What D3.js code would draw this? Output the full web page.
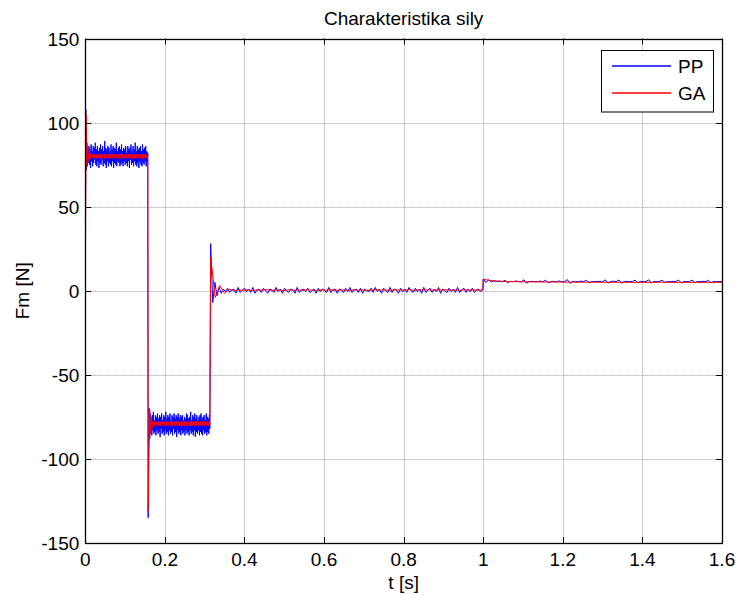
<!DOCTYPE html>
<html>
<head>
<meta charset="utf-8">
<script src="https://cdn.jsdelivr.net/npm/d3@7"></script>
<style>
  body { margin: 0; background: #fff; }
  text { font-family: "Liberation Sans", Arial, sans-serif; }
</style>
</head>
<body>
<svg id="chart" width="737" height="595"></svg>
<script>
const width = 737;
const height = 595;
const margin = { top: 38.5, right: 15, bottom: 52, left: 85.3 };

const xTicks = [0, 0.2, 0.4, 0.6, 0.8, 1, 1.2, 1.4, 1.6];
const yTicks = [-150, -100, -50, 0, 50, 100, 150];

// time span of each piece of the record [start, end] in seconds
const segmentTimes = [[0, 0.157], [0.158, 0.313], [0.315, 0.999], [1.0, 1.6]];

// PP (blue) samples
const ppHigh = [0, 108, 72, 88, 74, 85, 76, 86, 75, 84, 73, 87, 77, 83, 74, 86, 76, 85, 78, 88,
    75, 84, 74, 86, 77, 83, 73, 85, 76, 87, 75, 84, 78, 86, 74, 83, 76, 89, 75, 85,
    73, 84, 77, 86, 74, 85, 76, 83, 75, 87, 74, 84, 77, 86, 73, 85, 76, 84, 75, 88,
    74, 83, 77, 85, 76, 86, 74, 84, 75, 87, 76, 83, 74, 85, 77, 84, 75, 86, 76, 82,
    74, 86, 77, 84, 73, 85, 78, 87, 75, 83, 76, 86, 74, 84, 77, 88, 75, 83, 74, 86,
    76, 84, 73, 85, 77, 86, 75, 83, 74, 87, 76, 84, 75, 85, 77, 86, 74, 83, 76, 82];
const ppLow = [-135, -92, -70, -88, -73, -84, -76, -86, -74, -83, -72, -85, -77, -84, -74, -86, -75, -83, -73, -85,
    -76, -84, -74, -87, -75, -82, -73, -85, -77, -84, -74, -86, -75, -83, -72, -85, -76, -84, -74, -86,
    -75, -83, -73, -85, -77, -84, -74, -86, -75, -82, -73, -85, -76, -84, -74, -87, -75, -83, -73, -85,
    -76, -84, -74, -86, -75, -83, -74, -85, -77, -84, -75, -86, -76, -83, -73, -85, -74, -84, -76, -86,
    -75, -83, -72, -85, -77, -84, -74, -86, -75, -83, -73, -87, -76, -84, -74, -85, -77, -83, -75, -86,
    -74, -84, -73, -85, -76, -86, -75, -83, -74, -85, -77, -84, -73, -86, -75, -84, -76, -85, -74, -82];
const ppZero = [28, -7, 5, -3, 2, -1.5, 1, -0.5, 1.5, -1, 0.5, 1, -1.5, 2, -1, 0.5, 1.5, -0.5, 1, -1,
    2, -1.5, 0.5, 1, -1, 1.5, 0, -1.5, 1, 0.5, -1, 2, -0.5, 1, -1.5, 1.5, 0, -1, 1, 0.5,
    -1.5, 2, -1, 0.5, 1, -0.5, 1.5, -1, 0, 1, -1.5, 1.5, -0.5, 1, 0, -1, 2, -1, 0.5, 1,
    -1.5, 1, 0.5, -1, 1.5, -0.5, 2, -1, 0.5, 1, -1, 1.5, -1.5, 1, 0, -0.5, 1.5, -1, 2, -0.5,
    1, -1.5, 1.5, 0, -1, 2, -1, 1, 0.5, -1.5, 1.5, -0.5, 1, -1, 2, 0, -1, 1.5, -0.5, 1,
    -1.5, 2, -1, 0.5, 1.5, -1, 1, -0.5, 2, -1.5, 1, 0, -1, 1.5, -0.5, 1, -1, 2, -1, 0.5,
    1.5, -1, 1, -0.5, 1.5, -1, 0.5, 1, -0.5, 0.5];
const ppStep = [7, 5, 6.5, 5.2, 6, 5.5, 5.8, 5.3, 6.2, 4.8, 5.6, 5.4, 5.8, 5.5, 5.3, 6.5, 4.5, 5.5, 5.6,
    5.4, 5.5, 5.7, 5.4, 6.3, 4.7, 5.5, 5.6, 5.4, 5.8, 5.3, 5.5, 6.6, 4.4, 5.6, 5.5, 5.4, 5.7, 5.5, 6.2,
    4.8, 5.5, 5.4, 5.6, 5.5, 5.3, 6.5, 4.6, 5.5, 5.7, 5.4, 6.4, 4.5, 5.5, 5.6, 5.4, 5.5, 6.3, 4.7, 5.6,
    5.4, 5.5, 6.5, 4.6, 5.5, 5.4, 5.6, 6.2, 4.9, 5.5, 5.4, 5.6, 5.5, 6.4, 4.6, 5.5, 5.4, 5.5, 6.3, 4.8,
    5.5, 5.4, 5.6, 5.5, 6.2, 4.8, 5.5, 5.4, 5.5, 5.4];

// GA (red) samples
const gaHigh = [0, 105, 74, 86, 77, 83, 78.5, 81.5, 78.8, 81.2, 78.6, 81.4, 78.9, 81, 78.5, 81.3, 79, 81.5, 78.7, 81.2,
    78.6, 81, 78.9, 81.4, 78.5, 81.2, 79, 81.3, 78.7, 81, 78.8, 81.5, 78.6, 81.1, 78.9, 81.3, 78.5, 81.2, 79, 81.4,
    78.7, 81, 78.6, 81.3, 78.9, 81.2, 78.5, 81.5, 78.8, 81, 78.6, 81.3, 79, 81.1, 78.7, 81.4, 78.5, 81.2, 78.9, 81,
    78.6, 81.3, 78.8, 81.2, 78.5, 81.4, 79, 81, 78.7, 81.3, 78.6, 81.1, 78.9, 81.4, 78.5, 81.2, 78.8, 81, 78.7, 80.5];
const gaLow = [-131, -95, -71, -85, -75, -82, -77.6, -80.4, -77.8, -80.2, -77.6, -80.4, -77.9, -80.1, -77.5, -80.3, -78, -80.5, -77.7, -80.2,
    -77.6, -80.1, -77.9, -80.4, -77.5, -80.2, -78, -80.3, -77.7, -80.1, -77.8, -80.5, -77.6, -80.1, -77.9, -80.3, -77.5, -80.2, -78, -80.4,
    -77.7, -80.1, -77.6, -80.3, -77.9, -80.2, -77.5, -80.5, -77.8, -80.1, -77.6, -80.3, -78, -80.1, -77.7, -80.4, -77.5, -80.2, -77.9, -80.1,
    -77.6, -80.3, -77.8, -80.2, -77.5, -80.4, -78, -80.1, -77.7, -80.3, -77.6, -80.1, -77.9, -80.4, -77.5, -80.2, -77.8, -80.1, -77.7, -79.5];
const gaZero = [20, -4, 3, -1.5, 1, 0, 0.5, 0.2, 0.6, 0.1, 0.5, 0.3, 0.7, 0.2, 0.5, 0.4, 0.1, 0.6, 0.3, 0.5,
    0.2, 0.6, 0.4, 0.1, 0.5, 0.3, 0.7, 0.2, 0.4, 0.5, 0.1, 0.6, 0.3, 0.5, 0.2, 0.4, 0.6, 0.3, 0.5, 0.2,
    0.6, 0.4, 0.3, 0.7, 0.2, 0.5, 0.4, 0.6, 0.3, 0.5, 0.4, 0.6, 0.3, 0.5, 0.2, 0.6, 0.4, 0.5, 0.3, 0.5];
const gaStep = [6.8, 6, 5.6, 5.5, 5.4, 5.3, 5.3, 5.2, 5.2, 5.2, 5.1, 5.1, 5.1, 5.1, 5.0, 5.0, 5.1, 5.0, 5.0,
    5.0, 5.0, 5.1, 5.0, 5.0, 5.0, 5.0, 5.0, 5.0, 5.0];

const seriesNames = ["PP", "GA"];
const seriesColors = ["#0000ff", "#ff0000"];

// spread each piece's samples evenly over its time span
function buildSeries(pieces) {
    const pts = [];
    pieces.forEach((vals, k) => {
        const [t0, t1] = segmentTimes[k];
        vals.forEach((v, i) => {
            pts.push({ t: t0 + i * (t1 - t0) / (vals.length - 1), v: v });
        });
    });
    return pts;
}

const series = [
    buildSeries([ppHigh, ppLow, ppZero, ppStep]),
    buildSeries([gaHigh, gaLow, gaZero, gaStep])
];

const svg = d3.select("#chart");

const x = d3.scaleLinear().domain([0, 1.6]).range([margin.left, width - margin.right]);
const y = d3.scaleLinear().domain([-150, 150]).range([height - margin.bottom, margin.top]);

const x0 = x.range()[0], x1 = x.range()[1];
const y0 = y.range()[0], y1 = y.range()[1];

// grid
const grid = svg.append("g")
    .attr("stroke", "#9a9a9a")
    .attr("stroke-width", 1)
    .attr("stroke-dasharray", "1,1");

grid.selectAll(".gx")
    .data(xTicks.slice(1, -1))
    .join("line")
    .attr("x1", d => Math.round(x(d)) + 0.5).attr("x2", d => Math.round(x(d)) + 0.5)
    .attr("y1", y1).attr("y2", y0);

grid.selectAll(".gy")
    .data(yTicks.slice(1, -1))
    .join("line")
    .attr("y1", d => Math.round(y(d)) + 0.5).attr("y2", d => Math.round(y(d)) + 0.5)
    .attr("x1", x0).attr("x2", x1);

// data
svg.append("clipPath").attr("id", "clip")
    .append("rect")
    .attr("x", x0).attr("y", y1)
    .attr("width", x1 - x0).attr("height", y0 - y1);

const line = d3.line().x(d => x(d.t)).y(d => y(d.v));

svg.append("g")
    .attr("clip-path", "url(#clip)")
    .selectAll("path")
    .data(series)
    .join("path")
    .attr("d", line)
    .attr("fill", "none")
    .style("stroke", (d, i) => seriesColors[i])
    .attr("stroke-width", 1);

// axes with inward ticks on every side
const tickLen = 6;
const ticks = svg.append("g").attr("stroke", "#000").attr("stroke-width", 1);

xTicks.forEach(t => {
    const px = Math.round(x(t)) + 0.5;
    ticks.append("line").attr("x1", px).attr("x2", px).attr("y1", y0).attr("y2", y0 - tickLen);
    ticks.append("line").attr("x1", px).attr("x2", px).attr("y1", y1).attr("y2", y1 + tickLen);
});
yTicks.forEach(t => {
    const py = Math.round(y(t)) + 0.5;
    ticks.append("line").attr("y1", py).attr("y2", py).attr("x1", x0).attr("x2", x0 + tickLen);
    ticks.append("line").attr("y1", py).attr("y2", py).attr("x1", x1).attr("x2", x1 - tickLen);
});

svg.append("rect")
    .attr("x", Math.round(x0) + 0.5).attr("y", Math.round(y1) + 0.5)
    .attr("width", Math.round(x1) - Math.round(x0)).attr("height", Math.round(y0) - Math.round(y1))
    .attr("fill", "none")
    .attr("stroke", "#000")
    .attr("stroke-width", 1.3);

svg.append("g")
    .selectAll("text")
    .data(xTicks)
    .join("text")
    .attr("x", d => x(d))
    .attr("y", y0 + 23)
    .attr("text-anchor", "middle")
    .attr("font-size", 19)
    .text(d => d3.format("")(d));

svg.append("g")
    .selectAll("text")
    .data(yTicks)
    .join("text")
    .attr("x", x0 - 6)
    .attr("y", d => y(d) + 7)
    .attr("text-anchor", "end")
    .attr("font-size", 19)
    .text(d => d);

svg.append("text")
    .attr("x", (x0 + x1) / 2)
    .attr("y", 25)
    .attr("text-anchor", "middle")
    .attr("font-size", 19)
    .text("Charakteristika sily");

svg.append("text")
    .attr("x", (x0 + x1) / 2)
    .attr("y", 589)
    .attr("text-anchor", "middle")
    .attr("font-size", 19)
    .text("t [s]");

svg.append("text")
    .attr("transform", `translate(29, ${(y0 + y1) / 2}) rotate(-90)`)
    .attr("text-anchor", "middle")
    .attr("font-size", 19)
    .text("Fm [N]");

// legend
const legend = svg.append("g").attr("transform", "translate(601, 50)");
legend.append("rect")
    .attr("x", 0.5).attr("y", 0.5)
    .attr("width", 112).attr("height", 61.5)
    .attr("fill", "#fff")
    .attr("stroke", "#000")
    .attr("stroke-width", 1);

seriesNames.forEach((name, i) => {
    const ly = 16 + i * 27;
    legend.append("line")
        .attr("x1", 11).attr("x2", 70)
        .attr("y1", ly).attr("y2", ly)
        .style("stroke", seriesColors[i])
        .style("stroke-width", 1.5);
    legend.append("text")
        .attr("x", 77)
        .attr("y", ly + 7)
        .attr("font-size", 19)
        .text(name);
});
</script>
</body>
</html>
